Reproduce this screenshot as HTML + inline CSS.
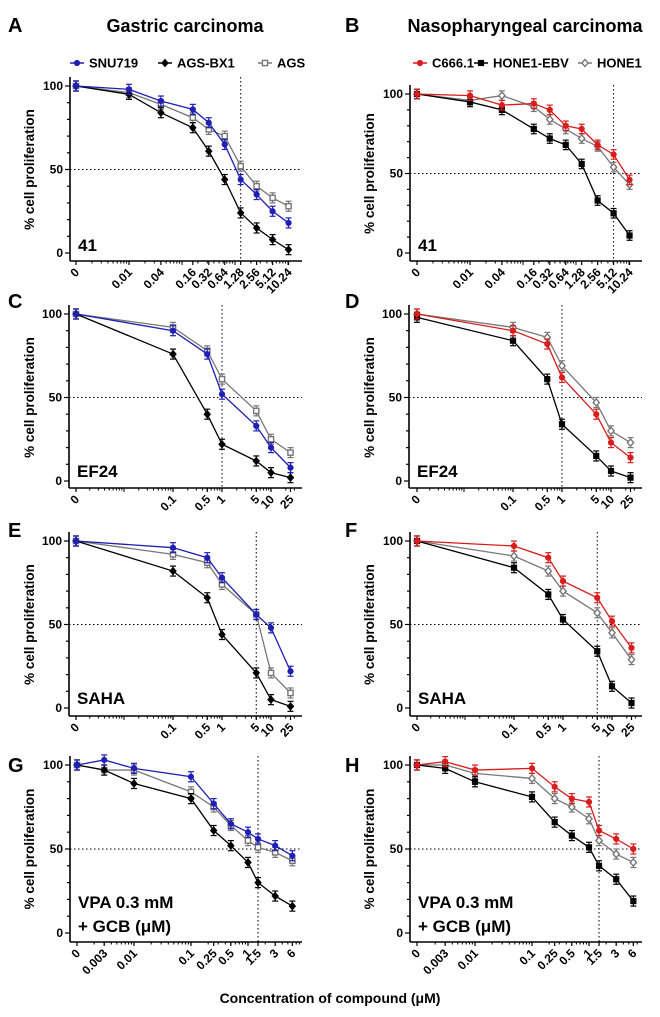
<!DOCTYPE html>
<html><head><meta charset="utf-8">
<style>
html,body{margin:0;padding:0;background:#fff;}
svg{display:block;font-family:"Liberation Sans",Arial,sans-serif;font-weight:bold;}
</style></head>
<body>
<svg id="fig" width="660" height="1017" viewBox="0 0 660 1017" xmlns="http://www.w3.org/2000/svg">
  <text x="8" y="32" font-size="20">A</text>
  <text x="185" y="32" font-size="18" text-anchor="middle">Gastric carcinoma</text>
  <text x="345" y="32" font-size="20">B</text>
  <text x="525" y="32" font-size="18" text-anchor="middle">Nasopharyngeal carcinoma</text>
  <text x="8" y="308" font-size="20">C</text>
  <text x="345" y="308" font-size="20">D</text>
  <text x="8" y="537" font-size="20">E</text>
  <text x="345" y="537" font-size="20">F</text>
  <text x="8" y="772" font-size="20">G</text>
  <text x="345" y="772" font-size="20">H</text>
  <text x="330" y="1003" font-size="14" text-anchor="middle">Concentration of compound (μM)</text>
  <g id="plots"></g>
</svg>
<script>
// ---- data ----
const gastricSeries = ["SNU719", "AGS-BX1", "AGS"];
const npcSeries = ["C666.1", "HONE1-EBV", "HONE1"];

const concA = [0, 0.01, 0.04, 0.16, 0.32, 0.64, 1.28, 2.56, 5.12, 10.24];
const tickA = ["0","0.01","0.04","0.16","0.32","0.64","1.28","2.56","5.12","10.24"];
const aSNU719 = [100, 98, 91, 86, 78, 65, 44, 35, 25, 18];
const aBX1 = [100, 95, 84, 75, 61, 44, 24, 15, 8, 2];
const aAGS = [100, 96, 89, 81, 74, 70, 52, 40, 33, 28];
const bC666 = [100, 99, 93, 94, 90, 80, 78, 68, 62, 46];
const bEBV = [100, 95, 90, 78, 72, 68, 56, 33, 25, 11];
const bHONE1 = [100, 96, 99, 92, 84, 78, 72, 67, 54, 43];

const concC = [0, 0.1, 0.5, 1, 5, 10, 25];
const tickC = ["0","0.1","0.5","1","5","10","25"];
const cSNU719 = [100, 90, 76, 52, 33, 20, 8];
const cBX1 = [100, 76, 40, 22, 12, 5, 2];
const cAGS = [100, 92, 78, 61, 42, 25, 17];
const dC666 = [100, 90, 82, 62, 40, 23, 14];
const dEBV = [98, 84, 61, 34, 15, 6, 2];
const dHONE1 = [100, 92, 86, 69, 47, 30, 23];

const eSNU719 = [100, 96, 90, 78, 56, 48, 22];
const eBX1 = [100, 82, 66, 44, 21, 5, 1];
const eAGS = [100, 92, 87, 74, 56, 21, 9];
const fC666 = [100, 97, 90, 76, 66, 52, 36];
const fEBV = [100, 84, 68, 53, 34, 13, 3];
const fHONE1 = [100, 91, 82, 70, 57, 45, 29];

const concG = [0, 0.003, 0.01, 0.1, 0.25, 0.5, 1, 1.5, 3, 6];
const tickG = ["0","0.003","0.01","0.1","0.25","0.5","1","1.5","3","6"];
const gSNU719 = [100, 103, 98, 93, 77, 65, 60, 56, 52, 46];
const gBX1 = [100, 97, 89, 80, 61, 52, 42, 30, 22, 16];
const gAGS = [100, 97, 97, 84, 75, 64, 55, 51, 48, 43];
const hC666 = [100, 102, 97, 98, 87, 80, 78, 61, 56, 50];
const hEBV = [100, 98, 90, 81, 66, 58, 51, 40, 32, 19];
const hHONE1 = [100, 100, 95, 92, 80, 75, 68, 55, 47, 42];

const errBar = 3;
const yTicks = [0, 50, 100];
const ic50Conc = {A:1.28, B:5.12, C:1, D:1, E:5, F:5, G:1.5, H:1.5};

// ---- rendering ----
const NS = "http://www.w3.org/2000/svg";
const root = document.getElementById("plots");
function mk(tag, attrs, parent){
  const e = document.createElementNS(NS, tag);
  for (const k in attrs) e.setAttribute(k, attrs[k]);
  (parent||root).appendChild(e);
  return e;
}
const styles = {
  "SNU719": {c:"#1f1fb4", m:"circle", fill:true},
  "AGS-BX1": {c:"#000", m:"diamond", fill:true},
  "AGS": {c:"#777", m:"square", fill:false},
  "C666.1": {c:"#d91c1c", m:"circle", fill:true},
  "HONE1-EBV": {c:"#000", m:"square", fill:true},
  "HONE1": {c:"#777", m:"diamond", fill:false}
};
function marker(g, st, x, y, r){
  let e;
  if (st.m==="circle") e = mk("circle",{cx:x,cy:y,r:r},g);
  else if (st.m==="square") e = mk("rect",{x:x-r,y:y-r,width:2*r,height:2*r},g);
  else e = mk("polygon",{points:`${x},${y-r-1} ${x+r+0.5},${y} ${x},${y+r+1} ${x-r-0.5},${y}`},g);
  e.setAttribute("fill", st.fill ? st.c : "#fff");
  e.setAttribute("stroke", st.c);
  e.setAttribute("stroke-width", st.fill ? 1 : 1.4);
  return e;
}

const panels = [
  {id:"A", ox:0, axX:70, y100:86, y0:253, xl:261, zeroX:76, oneX:235, dec:53, conc:concA, ticks:tickA, names:gastricSeries, vals:[aSNU719,aBX1,aAGS], label:["41"], ly:[251]},
  {id:"B", ox:340, axX:410, y100:94, y0:253, xl:261, zeroX:417, oneX:576, dec:53, conc:concA, ticks:tickA, names:npcSeries, vals:[bC666,bEBV,bHONE1], label:["41"], ly:[251]},
  {id:"C", ox:0, axX:69, y100:314, y0:481, xl:488, zeroX:76, oneX:222, dec:49, conc:concC, ticks:tickC, names:gastricSeries, vals:[cSNU719,cBX1,cAGS], label:["EF24"], ly:[477]},
  {id:"D", ox:340, axX:409, y100:314, y0:481, xl:488, zeroX:417, oneX:562, dec:49, conc:concC, ticks:tickC, names:npcSeries, vals:[dC666,dEBV,dHONE1], label:["EF24"], ly:[477]},
  {id:"E", ox:0, axX:69, y100:541, y0:708, xl:716, zeroX:76, oneX:222, dec:49, conc:concC, ticks:tickC, names:gastricSeries, vals:[eSNU719,eBX1,eAGS], label:["SAHA"], ly:[704]},
  {id:"F", ox:340, axX:410, y100:541, y0:708, xl:716, zeroX:417, oneX:563, dec:49, conc:concC, ticks:tickC, names:npcSeries, vals:[fC666,fEBV,fHONE1], label:["SAHA"], ly:[704]},
  {id:"G", ox:0, axX:70, y100:765, y0:933, xl:942, zeroX:77, oneX:248, dec:57, conc:concG, ticks:tickG, names:gastricSeries, vals:[gSNU719,gBX1,gAGS], label:["VPA 0.3 mM","+ GCB (μM)"], ly:[908,932]},
  {id:"H", ox:340, axX:410, y100:765, y0:933, xl:942, zeroX:417, oneX:589, dec:57, conc:concG, ticks:tickG, names:npcSeries, vals:[hC666,hEBV,hHONE1], label:["VPA 0.3 mM","+ GCB (μM)"], ly:[908,932]}
];

panels.forEach(p=>{
  const g = mk("g",{});
  
  
  const xs = c => c===0 ? p.zeroX : p.oneX + p.dec*Math.log10(c);
  const ys = v => p.y0 - (p.y0-p.y100)*v/100;
  const right = p.ox + 302;
  const ya = mk("line",{x1:p.axX,y1:p.y100-9,x2:p.axX,y2:p.xl,stroke:"#000","stroke-width":1.6},g);
  
  
  const xa = mk("line",{x1:p.axX,y1:p.xl,x2:right,y2:p.xl,stroke:"#000","stroke-width":1.6},g);
  
  
  for (let v=0; v<=100; v+=10){
    mk("line",{x1:p.axX-(v%50===0?5:3),y1:ys(v),x2:p.axX,y2:ys(v),stroke:"#000","stroke-width":1.2},g);
  }
  yTicks.forEach(v=>{
    const t = mk("text",{x:p.axX-7,y:ys(v)+4,"font-size":12,"text-anchor":"end"},g);
    t.textContent = String(v);
    
    
  });
  for (let e=-3; e<=1; e++){
    for (let m=1; m<10; m++){
      const c = m*Math.pow(10,e);
      const x = xs(c);
      if (x > p.zeroX+12 && x < right-2) mk("line",{x1:x,y1:p.xl,x2:x,y2:p.xl+(m===1?4:2.5),stroke:"#000","stroke-width":1},g);
    }
  }
  p.conc.forEach((c,i)=>{
    const x = xs(c);
    mk("line",{x1:x,y1:p.xl,x2:x,y2:p.xl+4,stroke:"#000","stroke-width":1.2},g);
    const t = mk("text",{x:x+4,y:p.xl+12,"font-size":12,"text-anchor":"end",transform:`rotate(-45 ${x+4} ${p.xl+12})`},g);
    t.textContent = p.ticks[i];
    
    
  });
  const ym = (p.y100+p.y0)/2;
  const yt = mk("text",{x:p.ox+34,y:ym,"font-size":13.5,"text-anchor":"middle",transform:`rotate(-90 ${p.ox+34} ${ym})`},g);
  yt.textContent = "% cell proliferation";
  
  
  const h50 = mk("line",{x1:p.axX,y1:ys(50),x2:right,y2:ys(50),stroke:"#000","stroke-width":1,"stroke-dasharray":"1.5,2.5"},g);
  
  
  const vx = xs(ic50Conc[p.id]);
  const vl = mk("line",{x1:vx,y1:p.y100-9,x2:vx,y2:p.xl,stroke:"#000","stroke-width":1,"stroke-dasharray":"1.5,2.5"},g);
  
  
  p.label.forEach((s,i)=>{
    const t = mk("text",{x:p.axX+8,y:p.ly[i],"font-size":17},g);
    t.textContent = s;
    
    
  });
  [2,1,0].forEach(si=>{
    const name = p.names[si], st = styles[name], vals = p.vals[si];
    const sg = mk("g",{},g);
    
    
    const pts = vals.map((v,i)=>`${xs(p.conc[i])},${ys(v)}`).join(" ");
    mk("polyline",{points:pts,fill:"none",stroke:st.c,"stroke-width":1.3},sg);
    vals.forEach((v,i)=>{
      const x = xs(p.conc[i]), y1 = ys(v+errBar), y2 = ys(v-errBar);
      mk("line",{x1:x,y1:y1,x2:x,y2:y2,stroke:st.c,"stroke-width":1.2},sg);
      mk("line",{x1:x-3,y1:y1,x2:x+3,y2:y1,stroke:st.c,"stroke-width":1.2},sg);
      mk("line",{x1:x-3,y1:y2,x2:x+3,y2:y2,stroke:st.c,"stroke-width":1.2},sg);
      const m = marker(sg, st, x, ys(v), 2.6);
      
      
    });
  });
});

function legend(ox, items, xs){
  items.forEach((name,i)=>{
    const st = styles[name];
    const g = mk("g",{});
    
    
    const x = xs[i];
    mk("line",{x1:x,y1:63,x2:x+14,y2:63,stroke:st.c,"stroke-width":1.5},g);
    marker(g, st, x+7, 63, 2.6);
    const t = mk("text",{x:x+19,y:67.5,"font-size":13},g);
    t.textContent = name;
  });
}
legend(0, gastricSeries, [70, 158, 258]);
legend(340, npcSeries, [413, 474, 578]);
</script>
</body></html>
